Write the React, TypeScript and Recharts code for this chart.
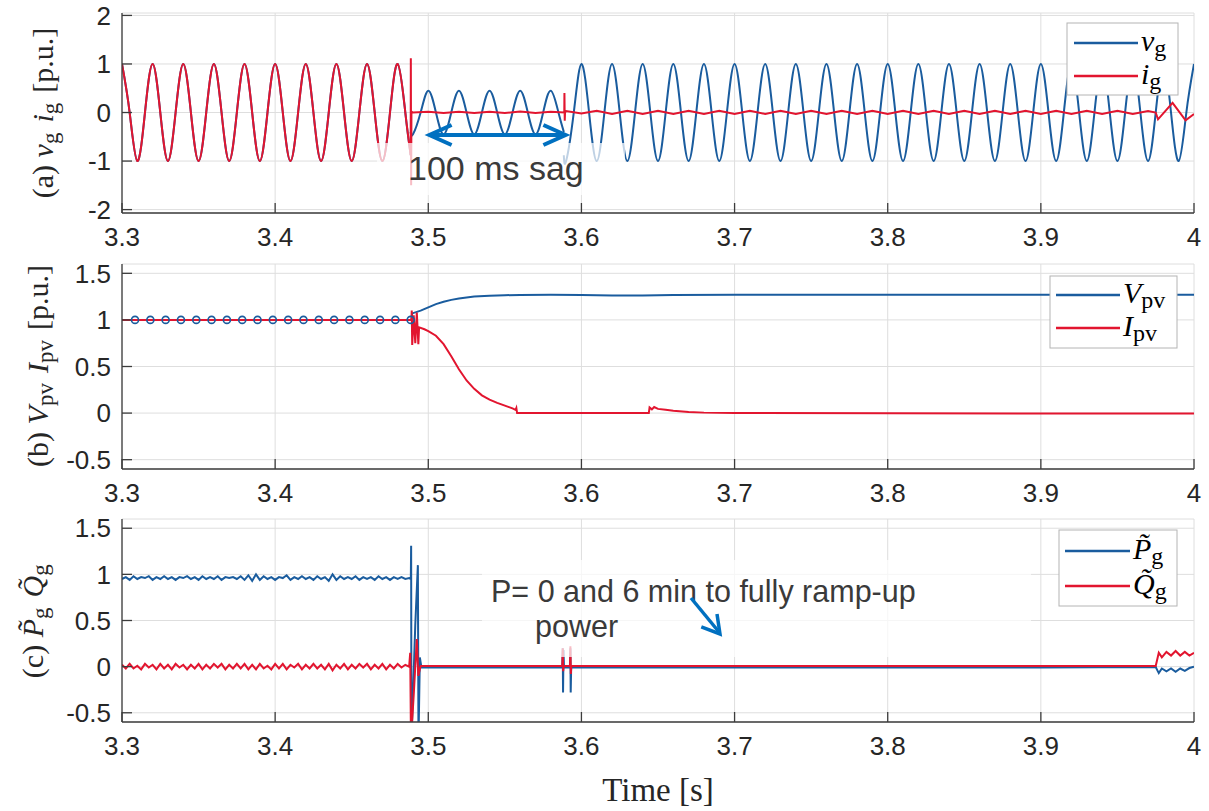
import React from 'react';
import { LineChart, Line, XAxis, YAxis, CartesianGrid } from 'recharts';

// ---------- colours ----------
const BLUE = '#1A5C9E';
const RED = '#E2152F';
const AX = '#3c3c3c';
const ANN = '#0070C0';

// ---------- tick labels ----------
const timeTicks = [3.3, 3.4, 3.5, 3.6, 3.7, 3.8, 3.9, 4];
const ticksA = [-2, -1, 0, 1, 2];
const ticksBC = [-0.5, 0, 0.5, 1, 1.5];

// ---------- (a) grid voltage v_g : samples every 5 ms (quarter period of 50 Hz) ----------
const vgPre = [
  1, 0, -1, 0, 1, 0, -1, 0, 1, 0, -1, 0, 1, 0, -1, 0, 1, 0, -1, 0,
  1, 0, -1, 0, 1, 0, -1, 0, 1, 0, -1, 0, 1, 0, -1, 0, 1, 0,
]; // 3.300 .. 3.485
const vgPreEnd: [number, number] = [3.4885, -0.88];
const vgSag = [
  -0.45, 0, 0.45, 0, -0.45, 0, 0.45, 0, -0.45, 0, 0.45, 0, -0.45, 0, 0.45, 0, -0.45, 0, 0.45, 0,
]; // 3.490 .. 3.585
const vgSagStart: [number, number] = [3.4885, -0.4];
const vgSagEnd: [number, number] = [3.5885, -0.4];
const vgPost = [
  -1, 0, 1, 0, -1, 0, 1, 0, -1, 0, 1, 0, -1, 0, 1, 0, -1, 0, 1, 0,
  -1, 0, 1, 0, -1, 0, 1, 0, -1, 0, 1, 0, -1, 0, 1, 0, -1, 0, 1, 0,
  -1, 0, 1, 0, -1, 0, 1, 0, -1, 0, 1, 0, -1, 0, 1, 0, -1, 0, 1, 0,
  -1, 0, 1, 0, -1, 0, 1, 0, -1, 0, 1, 0, -1, 0, 1, 0, -1, 0, 1, 0,
  -1, 0, 1,
]; // 3.590 .. 4.000
const vgPostStart: [number, number] = [3.5885, -0.88];

// ---------- (a) grid current i_g ----------
const igPre = vgPre; // identical to v_g before the sag
const igFault: [number, number][] = [
  [3.4885, -0.88], [3.4886, 1.12], [3.4888, -1.5], [3.489, 0.02],
];
const igRipple = [
  0.0, 0.015, -0.01, 0.015, -0.01, 0.015, -0.01, 0.02, -0.01, 0.015,
  0.03, -0.02, 0.035, -0.03, 0.035, -0.03, 0.035, -0.03, 0.035, -0.03,
  0.035, -0.03, 0.035, -0.03, 0.035, -0.03, 0.035, -0.03, 0.035, -0.03,
  0.035, -0.03, 0.035, -0.03, 0.035, -0.03, 0.035, -0.03, 0.035, -0.03,
  0.035, -0.03, 0.035, -0.03, 0.035, -0.03, 0.035, -0.03, 0.03,
]; // 3.49 .. 3.97 every 10 ms
const igRecovery: [number, number][] = [
  [3.5888, 0.0], [3.5889, 0.4], [3.5891, -0.17], [3.5893, 0.0],
];
const igEnd: [number, number][] = [
  [3.975, 0.0], [3.9765, -0.14], [3.986, 0.2], [3.9945, -0.16], [4.0, -0.03],
];

// ---------- (b) PV voltage / current ----------
const vpv: [number, number][] = [
  [3.3, 1.0], [3.489, 1.0], [3.4895, 1.07], [3.495, 1.1], [3.5, 1.135], [3.505, 1.17],
  [3.51, 1.195], [3.515, 1.215], [3.52, 1.23], [3.53, 1.25], [3.54, 1.26], [3.55, 1.265],
  [3.56, 1.268], [3.58, 1.27], [3.6, 1.268], [3.62, 1.262], [3.64, 1.262], [3.66, 1.266],
  [3.7, 1.27], [3.8, 1.27], [3.9, 1.27], [4.0, 1.27],
];
const vpvMarkerTimes = [
  3.3085, 3.3185, 3.3285, 3.3385, 3.3485, 3.3585, 3.3685, 3.3785, 3.3885, 3.3985,
  3.4085, 3.4185, 3.4285, 3.4385, 3.4485, 3.4585, 3.4685, 3.4785, 3.4885,
];
const vpvMarkerValue = 1.0;
const ipv: [number, number][] = [
  [3.3, 1.0], [3.489, 1.0], [3.4892, 1.1], [3.4895, 0.73], [3.4905, 1.05], [3.4915, 0.75],
  [3.4925, 1.08], [3.4935, 0.74], [3.494, 0.92], [3.4975, 0.9], [3.5, 0.88], [3.505, 0.83],
  [3.51, 0.74], [3.515, 0.61], [3.52, 0.47], [3.525, 0.35], [3.53, 0.26], [3.535, 0.19],
  [3.54, 0.145], [3.545, 0.11], [3.55, 0.08], [3.555, 0.05], [3.557, 0.035], [3.5575, 0.055],
  [3.558, 0.0], [3.6, 0.0], [3.644, 0.0], [3.6445, 0.06], [3.646, 0.04], [3.6475, 0.065],
  [3.65, 0.045], [3.655, 0.035], [3.66, 0.025], [3.67, 0.012], [3.68, 0.005], [3.7, 0.0],
  [4.0, -0.005],
];

// ---------- (c) active / reactive power ----------
const pPre = [
  0.95, 0.97, 0.94, 0.98, 0.95, 0.97, 0.96, 0.98, 0.94, 0.97,
  0.95, 0.98, 0.95, 0.97, 0.94, 0.97, 0.96, 0.98, 0.95, 0.97,
  0.94, 0.98, 0.95, 0.97, 0.95, 0.98, 0.94, 0.97, 0.96, 0.97,
  0.95, 0.98, 0.94, 0.99, 0.93, 1.0, 0.94, 0.98, 0.95, 0.97,
  0.94, 0.97, 0.96, 0.99, 0.94, 0.97, 0.95, 0.98, 0.95, 0.97,
  0.94, 0.98, 0.95, 0.97, 0.93, 1.0, 0.94, 0.98, 0.95, 0.97,
  0.95, 0.98, 0.94, 0.97, 0.95, 0.97, 0.94, 0.98, 0.95, 0.97,
  0.94, 0.97, 0.95, 0.97, 0.95, 0.96,
]; // 3.3000 .. 3.4875 every 2.5 ms
const qPre = [
  0.02, -0.02, 0.03, -0.02, 0.01, -0.03, 0.03, -0.01, 0.02, -0.03,
  0.03, -0.02, 0.02, -0.03, 0.03, -0.01, 0.02, -0.03, 0.02, -0.02,
  0.03, -0.03, 0.02, -0.02, 0.03, -0.01, 0.03, -0.03, 0.02, -0.02,
  0.03, -0.02, 0.03, -0.03, 0.02, -0.03, 0.03, -0.02, 0.01, -0.03,
  0.03, -0.02, 0.03, -0.03, 0.02, -0.01, 0.03, -0.03, 0.02, -0.02,
  0.03, -0.02, 0.02, -0.03, 0.03, -0.04, 0.02, -0.02, 0.03, -0.03,
  0.02, -0.02, 0.03, -0.01, 0.03, -0.03, 0.02, -0.02, 0.03, -0.03,
  0.02, -0.02, 0.03, -0.01, 0.02, 0.0,
];
const pAfter: [number, number][] = [
  [3.4886, 0.95], [3.4888, 1.31], [3.489, -0.8], [3.4915, 0.45], [3.4932, 1.1], [3.4936, -0.8],
  [3.4945, 0.1], [3.4955, -0.008], [3.55, -0.008], [3.5875, -0.008], [3.5878, 0.2], [3.588, -0.28],
  [3.5883, 0.18], [3.5886, -0.008], [3.5925, -0.008], [3.5928, 0.2], [3.593, -0.28], [3.5933, -0.008],
  [3.7, -0.008], [3.8, -0.008], [3.9, -0.008], [3.975, -0.005], [3.977, -0.07], [3.979, -0.02],
  [3.982, -0.05], [3.985, -0.02], [3.988, -0.055], [3.991, -0.02], [3.994, -0.045], [3.997, -0.015],
  [4.0, 0.0],
];
const qAfter: [number, number][] = [
  [3.4882, 0.15], [3.4887, -0.8], [3.4905, -0.3], [3.4925, 0.3], [3.4935, -0.1], [3.495, 0.008],
  [3.5875, 0.008], [3.5878, 0.2], [3.5881, -0.05], [3.5884, 0.008], [3.5925, 0.008], [3.5928, 0.22],
  [3.5931, -0.08], [3.5934, 0.008], [3.7, 0.008], [3.8, 0.008], [3.9, 0.008], [3.975, 0.008],
  [3.977, 0.15], [3.979, 0.1], [3.982, 0.16], [3.985, 0.12], [3.988, 0.17], [3.991, 0.12],
  [3.994, 0.16], [3.997, 0.12], [4.0, 0.15],
];

// ---------- helpers to build the tables ----------
type Pt = { t: number; v: number };
const seq = (start: number, step: number, vals: number[]): Pt[] =>
  vals.map((v, i) => ({ t: Math.round((start + i * step) * 10000) / 10000, v }));
const pairs = (arr: [number, number][]): Pt[] => arr.map(([t, v]) => ({ t, v }));
const sortT = (a: Pt[]) => [...a].sort((p, q) => p.t - q.t);

const vgPreData = [...seq(3.3, 0.005, vgPre), ...pairs([vgPreEnd])];
const vgSagData = [...pairs([vgSagStart]), ...seq(3.49, 0.005, vgSag), ...pairs([vgSagEnd])];
const vgPostData = [...pairs([vgPostStart]), ...seq(3.59, 0.005, vgPost)];
const igPreData = [...seq(3.3, 0.005, igPre), ...pairs([vgPreEnd])];
const igRestData = sortT([
  ...pairs(igFault),
  ...seq(3.49, 0.01, igRipple),
  ...pairs(igRecovery),
  ...pairs(igEnd),
]);
const vpvData = pairs(vpv);
const vpvMarkers = vpvMarkerTimes.map((t) => ({ t, v: vpvMarkerValue }));
const ipvData = pairs(ipv);
const pData = [...seq(3.3, 0.0025, pPre), ...pairs(pAfter)];
const qData = [...seq(3.3, 0.0025, qPre), ...pairs(qAfter)];

// ---------- frame ----------
const fmtT = (v: number) => String(Math.round(v * 10) / 10);
const fmtY = (v: number) => String(v);
const SANS = '"Liberation Sans", Arial, Helvetica, sans-serif';
const SERIF = '"Liberation Serif", "DejaVu Serif", "Times New Roman", serif';
const tickFont = { fontSize: 26, fill: '#262626', fontFamily: SANS };
const EXTRA = 22; // spare room below the tick labels

function frame(domain: [number, number], ticks: number[]) {
  return [
    <CartesianGrid key="g" stroke="#dedede" strokeWidth={1} />,
    <XAxis
      key="xb" type="number" dataKey="t" domain={[3.3, 4]} ticks={timeTicks} allowDataOverflow
      interval={0} height={37} tickSize={-10} tickMargin={25} tick={tickFont}
      tickFormatter={fmtT} axisLine={{ stroke: AX, strokeWidth: 1.3 }}
      tickLine={{ stroke: AX, strokeWidth: 1.3 }}
    />,
    <XAxis
      key="xt" xAxisId="top" orientation="top" type="number" dataKey="t" domain={[3.3, 4]}
      ticks={timeTicks} allowDataOverflow interval={0} height={0} tickSize={-10} tick={false}
      axisLine={{ stroke: AX, strokeWidth: 1.3 }} tickLine={{ stroke: AX, strokeWidth: 1.3 }}
    />,
    <YAxis
      key="yl" type="number" domain={domain} ticks={ticks} allowDataOverflow interval={0}
      width={122} tickSize={-10} tickMargin={21} tick={tickFont} tickFormatter={fmtY}
      axisLine={{ stroke: AX, strokeWidth: 1.3 }} tickLine={{ stroke: AX, strokeWidth: 1.3 }}
    />,
    <YAxis
      key="yr" yAxisId="right" orientation="right" type="number" domain={domain} ticks={ticks}
      allowDataOverflow interval={0} width={0} tickSize={-10} tick={false}
      axisLine={{ stroke: AX, strokeWidth: 1.3 }} tickLine={{ stroke: AX, strokeWidth: 1.3 }}
    />,
  ];
}

const lineProps = {
  dataKey: 'v',
  dot: false,
  activeDot: false,
  isAnimationActive: false,
  strokeWidth: 2,
} as const;

function Legend({ x, y, w, h, rows }: { x: number; y: number; w: number; h: number; rows: { color: string; ly: number; x1: number; x2: number; label: React.ReactNode }[] }) {
  return (
    <g>
      <rect x={x} y={y} width={w} height={h} fill="#fff" stroke="#b4b4b4" strokeWidth={1} />
      {rows.map((r, i) => (
        <g key={i}>
          <line x1={r.x1} y1={r.ly} x2={r.x2} y2={r.ly} stroke={r.color} strokeWidth={2.5} />
          <text x={r.x2 + 3} y={r.ly + 8} fontFamily={SERIF} fontSize={30} fill="#000">{r.label}</text>
        </g>
      ))}
    </g>
  );
}

const Sub = ({ children, size = 24 }: { children: React.ReactNode; size?: number }) => (
  <>
    <tspan fontSize={size} dy={5} fontStyle="normal">{children}</tspan>
    <tspan dy={-5}>{'\u200A'}</tspan>
  </>
);

export default function App() {
  return (
    <div style={{ position: 'absolute', left: 0, top: 0, width: 1209, height: 811, background: '#fff', overflow: 'hidden' }}>
      {/* (a) */}
      <div style={{ position: 'absolute', left: 0, top: 0 }}>
        <LineChart width={1209} height={250 + EXTRA} margin={{ top: 13, right: 15, bottom: EXTRA, left: 0 }}>
          {frame([-2.07, 2.05], ticksA)}
          <Line {...lineProps} data={vgPreData} type="natural" stroke={BLUE} />
          <Line {...lineProps} data={vgSagData} type="natural" stroke={BLUE} />
          <Line {...lineProps} data={vgPostData} type="natural" stroke={BLUE} />
          <Line {...lineProps} data={igPreData} type="natural" stroke={RED} />
          <Line {...lineProps} data={igRestData} type="linear" stroke={RED} />
        </LineChart>
      </div>
      {/* (b) */}
      <div style={{ position: 'absolute', left: 0, top: 250 }}>
        <LineChart width={1209} height={256 + EXTRA} margin={{ top: 14, right: 15, bottom: EXTRA, left: 0 }}>
          {frame([-0.6, 1.6], ticksBC)}
          <Line {...lineProps} data={vpvData} type="linear" stroke={BLUE} />
          <Line {...lineProps} data={ipvData} type="linear" stroke={RED} />
          <Line
            dataKey="v" data={vpvMarkers} isAnimationActive={false} activeDot={false}
            stroke="none" dot={{ r: 3.5, stroke: BLUE, strokeWidth: 1.6, fill: 'none' }}
          />
        </LineChart>
      </div>
      {/* (c) */}
      <div style={{ position: 'absolute', left: 0, top: 505 }}>
        <LineChart width={1209} height={254 + EXTRA} margin={{ top: 14, right: 15, bottom: EXTRA, left: 0 }}>
          {frame([-0.6, 1.6], ticksBC)}
          <Line {...lineProps} data={pData} type="linear" stroke={BLUE} />
          <Line {...lineProps} data={qData} type="linear" stroke={RED} />
        </LineChart>
      </div>

      {/* overlay: annotations, legends, axis labels */}
      <svg width={1209} height={811} style={{ position: 'absolute', left: 0, top: 0, pointerEvents: 'none' }}>
        {/* (a) annotation */}
        <rect x={377} y={143} width={248} height={52} fill="#fff" fillOpacity={0.72} />
        <text x={408} y={180} fontFamily={SANS} fontSize={34} fill="#3a3a3a">100 ms sag</text>
        <line x1={432} y1={135} x2={563} y2={135} stroke={ANN} strokeWidth={4} />
        <polyline points="451.6,125 429.4,135 451.6,145" fill="none" stroke={ANN} strokeWidth={4} />
        <polyline points="543.4,125 565.6,135 543.4,145" fill="none" stroke={ANN} strokeWidth={4} />

        {/* (c) annotation */}
        <rect x={482} y={560} width={549} height={97} fill="#fff" fillOpacity={0.72} />
        <text x={491} y={602} fontFamily={SANS} fontSize={30.5} fill="#3a3a3a">P= 0 and 6 min to fully ramp-up</text>
        <text x={535} y={637} fontFamily={SANS} fontSize={30.5} fill="#3a3a3a">power</text>
        <line x1={691} y1={598} x2={719} y2={632} stroke={ANN} strokeWidth={3.5} />
        <polyline points="717,614 720,634 701.3,626.8" fill="none" stroke={ANN} strokeWidth={3.5} />

        {/* legends */}
        <Legend
          x={1067} y={23} w={111} h={72}
          rows={[
            { color: BLUE, ly: 43, x1: 1074, x2: 1138, label: <><tspan fontStyle="italic">v</tspan><Sub>g</Sub></> },
            { color: RED, ly: 76, x1: 1074, x2: 1138, label: <><tspan fontStyle="italic">i</tspan><Sub>g</Sub></> },
          ]}
        />
        <Legend
          x={1050} y={276} w={127} h={72}
          rows={[
            { color: BLUE, ly: 295, x1: 1056, x2: 1120, label: <><tspan fontStyle="italic">V</tspan><Sub>pv</Sub></> },
            { color: RED, ly: 328, x1: 1056, x2: 1120, label: <><tspan fontStyle="italic">I</tspan><Sub>pv</Sub></> },
          ]}
        />
        <Legend
          x={1059} y={530} w={118} h={76}
          rows={[
            { color: BLUE, ly: 551, x1: 1065, x2: 1130, label: <><tspan fontStyle="italic">{'P\u0303'}</tspan><Sub>g</Sub></> },
            { color: RED, ly: 586, x1: 1065, x2: 1130, label: <><tspan fontStyle="italic">{'Q\u0303'}</tspan><Sub>g</Sub></> },
          ]}
        />

        {/* y labels */}
        <text transform="translate(53,113) rotate(-90)" textAnchor="middle" fontFamily={SERIF} fontSize={30} fill="#262626">
          (a) <tspan fontStyle="italic">v</tspan><Sub size={23}>g</Sub> <tspan fontStyle="italic">i</tspan><Sub size={23}>g</Sub> [p.u.]
        </text>
        <text transform="translate(48,366) rotate(-90)" textAnchor="middle" fontFamily={SERIF} fontSize={30} fill="#262626">
          (b) <tspan fontStyle="italic">V</tspan><Sub size={23}>pv</Sub> <tspan fontStyle="italic">I</tspan><Sub size={23}>pv</Sub> [p.u.]
        </text>
        <text transform="translate(43,620) rotate(-90)" textAnchor="middle" fontFamily={SERIF} fontSize={30} fill="#262626">
          (c) <tspan fontStyle="italic">{'P\u0303'}</tspan><Sub size={23}>g</Sub> <tspan fontStyle="italic">{'Q\u0303'}</tspan><Sub size={23}>g</Sub>
        </text>

        {/* x label */}
        <text x={658} y={801} textAnchor="middle" fontFamily={SERIF} fontSize={33} fill="#262626">Time [s]</text>
      </svg>
    </div>
  );
}
